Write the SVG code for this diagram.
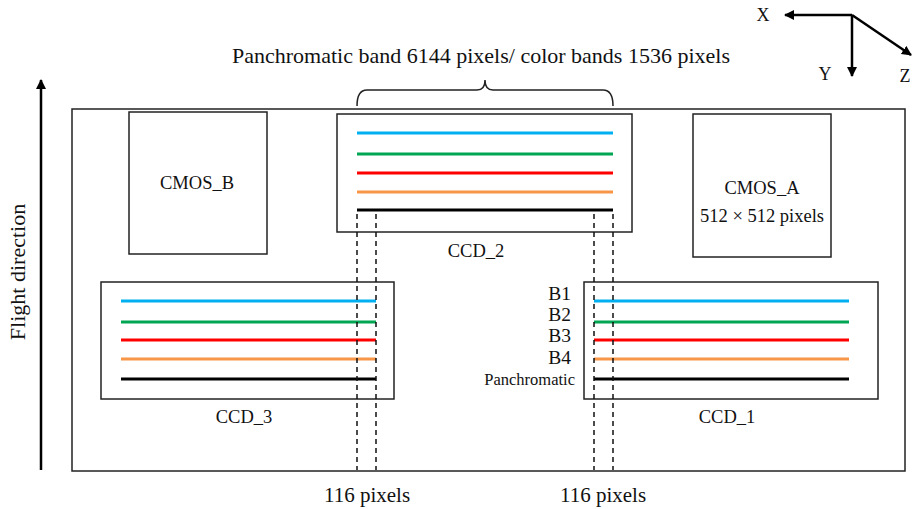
<svg xmlns="http://www.w3.org/2000/svg" width="913" height="509" viewBox="0 0 913 509">
<style>
.box{fill:#fff;stroke:#222;stroke-width:1.5}
.t{font-family:"Liberation Serif","Times New Roman",serif;fill:#111}
.b1{stroke:#00B0F0;stroke-width:3}
.b2{stroke:#00A651;stroke-width:3}
.b3{stroke:#FF0000;stroke-width:3}
.b4{stroke:#F79646;stroke-width:3}
.pan{stroke:#000;stroke-width:3}
.dash{stroke:#111;stroke-width:1.5;stroke-dasharray:5,4;fill:none}
.ax{stroke:#000;stroke-width:2.5;fill:none}
</style>
<defs>
<marker id="ah" viewBox="0 0 10 10" refX="9" refY="5" markerWidth="4" markerHeight="4" orient="auto" markerUnits="strokeWidth">
<path d="M0,0 L10,5 L0,10 z" fill="#000"/>
</marker>
</defs>
<rect width="913" height="509" fill="#fff"/>
<g id="frame">
<rect class="box" x="72" y="109" width="833" height="362"/>
</g>
<g id="flight">
<line class="ax" x1="41" y1="470" x2="41" y2="80" marker-end="url(#ah)"/>
<text class="t" font-size="22" transform="translate(25,272) rotate(-90)" text-anchor="middle">Flight direction</text>
</g>
<g id="axes">
<line class="ax" x1="852" y1="15" x2="785" y2="15" marker-end="url(#ah)"/>
<line class="ax" x1="852" y1="15" x2="852" y2="76" marker-end="url(#ah)"/>
<line class="ax" x1="852" y1="15" x2="911" y2="55" marker-end="url(#ah)"/>
<text class="t" font-size="18" x="763" y="21" text-anchor="middle">X</text>
<text class="t" font-size="18" x="825" y="80" text-anchor="middle">Y</text>
<text class="t" font-size="18" x="905" y="82" text-anchor="middle">Z</text>
</g>
<g id="title">
<text class="t" font-size="22" x="481" y="63" text-anchor="middle">Panchromatic band 6144 pixels/ color bands 1536 pixels</text>
<path d="M357,106 Q357,90 367,90 L477,90 Q485,90 485,80 Q485,90 493,90 L603,90 Q613,90 613,106" fill="none" stroke="#222" stroke-width="1.5"/>
</g>
<g id="cmos_b">
<rect class="box" x="129" y="112" width="138" height="142"/>
<text class="t" font-size="18.5" x="197" y="189" text-anchor="middle">CMOS_B</text>
</g>
<g id="cmos_a">
<rect class="box" x="693" y="114" width="138" height="143"/>
<text class="t" font-size="18.5" x="762" y="194" text-anchor="middle">CMOS_A</text>
<text class="t" font-size="18.5" x="762" y="222" text-anchor="middle">512 × 512 pixels</text>
</g>
<g id="ccd_2">
<rect class="box" x="337" y="114" width="295" height="118"/>
<line class="b1" x1="357" y1="133" x2="613" y2="133"/>
<line class="b2" x1="357" y1="154" x2="613" y2="154"/>
<line class="b3" x1="357" y1="173" x2="613" y2="173"/>
<line class="b4" x1="357" y1="192" x2="613" y2="192"/>
<line class="pan" x1="357" y1="210" x2="613" y2="210"/>
<text class="t" font-size="18.5" x="476" y="257" text-anchor="middle">CCD_2</text>
</g>
<g id="ccd_3">
<rect class="box" x="101" y="282" width="293" height="117"/>
<line class="b1" x1="121" y1="301" x2="376" y2="301"/>
<line class="b2" x1="121" y1="322" x2="376" y2="322"/>
<line class="b3" x1="121" y1="340" x2="376" y2="340"/>
<line class="b4" x1="121" y1="359" x2="376" y2="359"/>
<line class="pan" x1="121" y1="379" x2="376" y2="379"/>
<text class="t" font-size="18.5" x="244" y="423" text-anchor="middle">CCD_3</text>
</g>
<g id="ccd_1">
<rect class="box" x="584" y="282" width="294" height="117"/>
<line class="b1" x1="594" y1="301" x2="849" y2="301"/>
<line class="b2" x1="594" y1="322" x2="849" y2="322"/>
<line class="b3" x1="594" y1="340" x2="849" y2="340"/>
<line class="b4" x1="594" y1="359" x2="849" y2="359"/>
<line class="pan" x1="594" y1="379" x2="849" y2="379"/>
<text class="t" font-size="18.5" x="727" y="423" text-anchor="middle">CCD_1</text>
</g>
<g id="band_labels">
<text class="t" font-size="19.5" x="571" y="300" text-anchor="end">B1</text>
<text class="t" font-size="19.5" x="571" y="321" text-anchor="end">B2</text>
<text class="t" font-size="19.5" x="571" y="342" text-anchor="end">B3</text>
<text class="t" font-size="19.5" x="571" y="364" text-anchor="end">B4</text>
<text class="t" font-size="16.5" x="575" y="385" text-anchor="end">Panchromatic</text>
</g>
<g id="connectors">
<line class="dash" x1="357" y1="214" x2="357" y2="470"/>
<line class="dash" x1="376" y1="214" x2="376" y2="470"/>
<line class="dash" x1="594" y1="214" x2="594" y2="470"/>
<line class="dash" x1="613" y1="214" x2="613" y2="470"/>
</g>
<g id="overlap_labels">
<text class="t" font-size="21" x="367" y="502" text-anchor="middle">116 pixels</text>
<text class="t" font-size="21" x="603" y="502" text-anchor="middle">116 pixels</text>
</g>
</svg>
